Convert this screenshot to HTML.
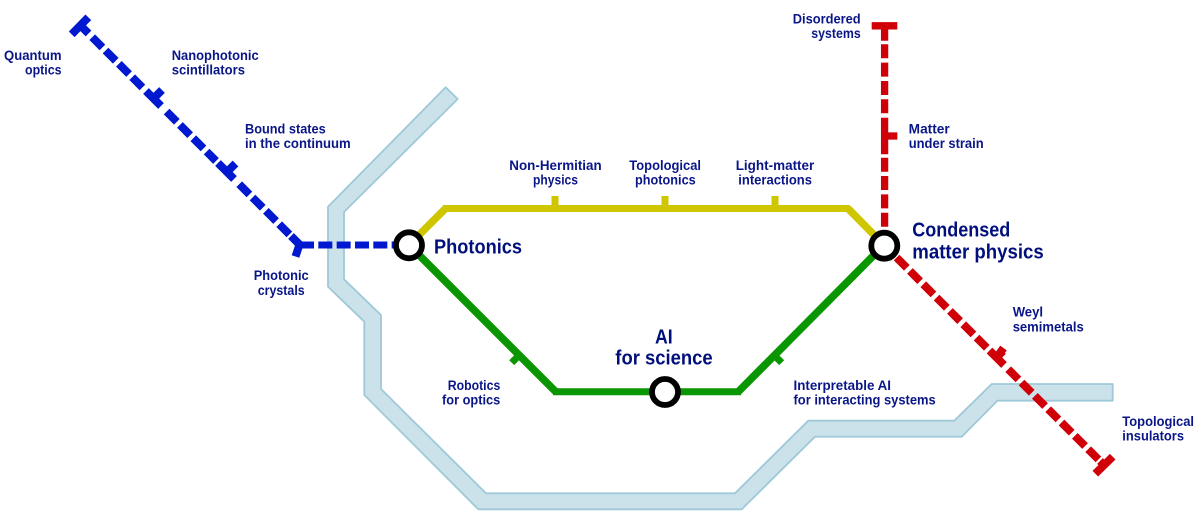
<!DOCTYPE html>
<html><head><meta charset="utf-8"><style>
html,body{margin:0;padding:0;background:#fff}
svg{display:block}
text{font-family:"Liberation Sans",sans-serif;font-weight:700;fill:#0a1688}
.s{font-size:13.5px}
.b{font-size:20px;fill:#000f7c}
</style></head><body>
<svg width="1198" height="525" viewBox="0 0 1198 525" xmlns="http://www.w3.org/2000/svg">
<path d="M445.7 87.3L457.7 99L344 212V279.3L381 315V389L486 493.3H735L808.3 420.7H954.3L991.7 384H1112.7V400.7H997.3L961.7 436.7H815L741.7 509.3H478.3L364.3 395V321.7L328 286.7V206.7Z" fill="#cbe2ea" stroke="#9fc9d9" stroke-width="1.8" stroke-linejoin="round"/>

<g fill="none" stroke="#cfc600">
<path stroke-width="7.6" d="M409 245L445.5 208.500M848 208.500L884 245"/>
<path stroke-width="7" d="M443 208.500H850"/>
<path stroke-width="7" d="M555 196V208M665 196V208M775 196V208"/>
</g>
<g fill="none" stroke="#0a9600">
<path stroke-width="7.6" d="M409 245L556 392M738 392L884 245"/>
<path stroke-width="7" d="M553 391.700H741"/>
<path stroke-width="7" d="M519.200 355.200L511.700 362.700M774 355L781.700 362.700"/>
</g>

<g fill="none" stroke="#0018d0" stroke-width="8">
<path d="M71.700 34.300L88.300 17.300M80 25L88.500 33.500"/>
<path d="M92.200 37.200L142.500 87.500" stroke-dasharray="14.450 4.400"/>
<path d="M146 91L161 106M153.500 98.500L162 90"/>
<path d="M166.600 111.600L216 161" stroke-dasharray="14.450 4.400"/>
<path d="M218 163L234 179M227 172L235.500 163.500"/>
<path d="M239.200 184.200L289.500 234.500" stroke-dasharray="14.450 4.400"/>
<path d="M291 236L300 245"/>
<path d="M300 243L295.500 256.500"/>
</g>
<path d="M298 245H395" fill="none" stroke="#0018d0" stroke-width="7" stroke-dasharray="16 4.330 14 4.330 14 4.330 14 4.330 14 4.330 14 4.330"/>

<g fill="none" stroke="#d00008">
<g stroke-width="7.300">
<path d="M871.700 25.800H897.300M884.600 29V40.700M884.600 136H897.300"/>
<path d="M884.600 44.300V117" stroke-dasharray="14 4.330"/>
<path d="M884.600 117.700V154.300"/>
<path d="M884.600 157.700V227" stroke-dasharray="14 4.330"/>
</g>
<g stroke-width="8">
<path d="M896.600 257.600L986.800 347.800" stroke-dasharray="14.450 4.400"/>
<path d="M989.500 350.500L1004 365M996.500 357.500L1003 351"/>
<path d="M997 357L1003.500 348"/>
<path d="M1008.200 369.200L1098.400 459.400" stroke-dasharray="14.450 4.400"/>
<path d="M1095.300 473.700L1112.700 456.700M1100 461L1104 465"/>
</g>
</g>

<g fill="#fff" stroke="#000" stroke-width="5.800">
<circle cx="409" cy="245.300" r="13"/>
<circle cx="665" cy="392" r="13"/>
<circle cx="884.300" cy="245.700" r="13"/>
</g>

<g class="s">
<text class="s" x="4" y="60" textLength="57.500" lengthAdjust="spacingAndGlyphs">Quantum</text>
<text class="s" x="25" y="74.700" textLength="36.500" lengthAdjust="spacingAndGlyphs">optics</text>
<text class="s" x="171.700" y="60" textLength="87" lengthAdjust="spacingAndGlyphs">Nanophotonic</text>
<text class="s" x="171.700" y="74.700" textLength="73.300" lengthAdjust="spacingAndGlyphs">scintillators</text>
<text class="s" x="245" y="133.300" textLength="80.700" lengthAdjust="spacingAndGlyphs">Bound states</text>
<text class="s" x="245" y="148" textLength="105.700" lengthAdjust="spacingAndGlyphs">in the continuum</text>
<text class="s" x="253.700" y="280" textLength="55" lengthAdjust="spacingAndGlyphs">Photonic</text>
<text class="s" x="257.700" y="295" textLength="47" lengthAdjust="spacingAndGlyphs">crystals</text>
<text class="s" x="509.300" y="170" textLength="92.400" lengthAdjust="spacingAndGlyphs">Non-Hermitian</text>
<text class="s" x="533" y="184.700" textLength="45" lengthAdjust="spacingAndGlyphs">physics</text>
<text class="s" x="629.300" y="170" textLength="71.700" lengthAdjust="spacingAndGlyphs">Topological</text>
<text class="s" x="635" y="184.700" textLength="60.700" lengthAdjust="spacingAndGlyphs">photonics</text>
<text class="s" x="735.700" y="170" textLength="78.600" lengthAdjust="spacingAndGlyphs">Light-matter</text>
<text class="s" x="738.300" y="184.700" textLength="73.700" lengthAdjust="spacingAndGlyphs">interactions</text>
<text class="s" x="792.700" y="23.300" textLength="68" lengthAdjust="spacingAndGlyphs">Disordered</text>
<text class="s" x="811.300" y="38" textLength="49.400" lengthAdjust="spacingAndGlyphs">systems</text>
<text class="s" x="908.700" y="133.300" textLength="41" lengthAdjust="spacingAndGlyphs">Matter</text>
<text class="s" x="908.700" y="148" textLength="75" lengthAdjust="spacingAndGlyphs">under strain</text>
<text class="s" x="1012.700" y="316.700" textLength="30.300" lengthAdjust="spacingAndGlyphs">Weyl</text>
<text class="s" x="1012.700" y="331.300" textLength="71" lengthAdjust="spacingAndGlyphs">semimetals</text>
<text class="s" x="793.500" y="390" textLength="97.500" lengthAdjust="spacingAndGlyphs">Interpretable AI</text>
<text class="s" x="793.500" y="404.500" textLength="142.200" lengthAdjust="spacingAndGlyphs">for interacting systems</text>
<text class="s" x="1122.300" y="426" textLength="71.700" lengthAdjust="spacingAndGlyphs">Topological</text>
<text class="s" x="1122.300" y="440.700" textLength="61.700" lengthAdjust="spacingAndGlyphs">insulators</text>
<text class="s" x="447.700" y="390" textLength="52.600" lengthAdjust="spacingAndGlyphs">Robotics</text>
<text class="s" x="442" y="404.700" textLength="58.300" lengthAdjust="spacingAndGlyphs">for optics</text>
</g>
<text class="b" x="434" y="253.300" textLength="88" lengthAdjust="spacingAndGlyphs">Photonics</text>
<text class="b" x="912.300" y="236.700" textLength="98" lengthAdjust="spacingAndGlyphs">Condensed</text>
<text class="b" x="912.300" y="258.300" textLength="131.400" lengthAdjust="spacingAndGlyphs">matter physics</text>
<text class="b" x="655" y="343.300" textLength="17.700" lengthAdjust="spacingAndGlyphs">AI</text>
<text class="b" x="615.300" y="364.300" textLength="97.400" lengthAdjust="spacingAndGlyphs">for science</text>
</svg>
</body></html>
